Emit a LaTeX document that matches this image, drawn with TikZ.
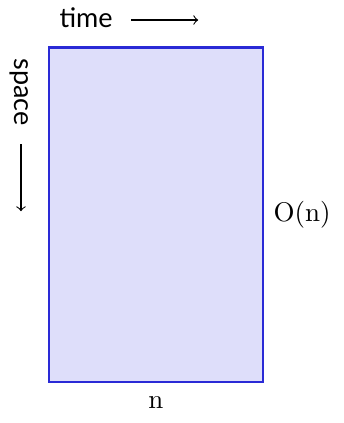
\documentclass[tikz,border=0pt]{standalone}
\usepackage{fontspec}
\setsansfont{Lato}
\usepackage{xcolor}
\usepackage{tikz}
\usetikzlibrary{positioning}
\definecolor{gridline}{HTML}{2A2AD6}
\definecolor{gridfill}{HTML}{DEDEFA}

\begin{document}
\begin{tikzpicture}[
    grid/.style={draw=gridline, thick, fill=gridfill,
                 minimum width=2.79cm, minimum height=4.35cm},
    axislabel/.style={inner sep=0pt, anchor=base west, font=\sffamily},
    axisarrow/.style={->, thin, black}
]
    \useasboundingbox (0,0) rectangle (4.466,5.507);

    \node[grid] (grid) at (2.028,2.713) {};
    \node[axislabel] (time) at (0.768,5.155) {time};
    \node[axislabel, rotate=-90] (space) at (0.195,4.752) {space};
    \node[right=0pt of grid] (size) {$\mathrm{O}(\mathrm{n})$};
    \node[below=0.05cm of grid] (length) {$\mathrm{n}$};

    \coordinate (timetail) at ([shift={(0.234,0.091)}]time.base east);
    \coordinate (timehead) at ([xshift=0.873cm]timetail);
    \coordinate (spacetail) at ([shift={(0.078,-0.234)}]space.base east);
    \coordinate (spacehead) at ([yshift=-0.873cm]spacetail);

    \draw[axisarrow] (timetail) -- (timehead);
    \draw[axisarrow] (spacetail) -- (spacehead);
\end{tikzpicture}
\end{document}
